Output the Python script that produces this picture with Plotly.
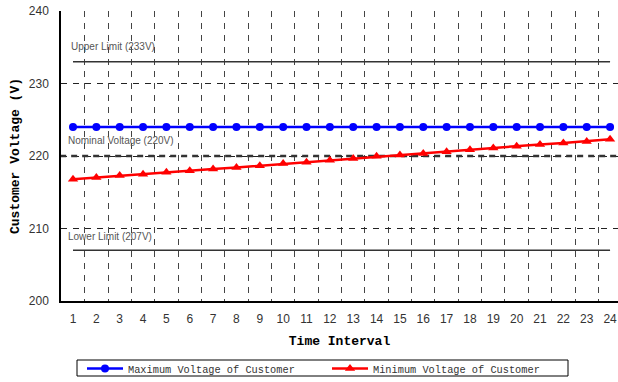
import plotly.graph_objects as go

intervals = list(range(1, 25))
max_voltage = [224] * 24
min_voltage = [216.8, 217.05, 217.3, 217.5, 217.75, 217.95, 218.2, 218.4, 218.65, 218.95,
               219.15, 219.4, 219.65, 219.95, 220.15, 220.35, 220.6, 220.85, 221.1, 221.35,
               221.6, 221.8, 222.0, 222.3]
upper_limit = 233
nominal = 220
lower_limit = 207
y_ticks = [200, 210, 220, 230, 240]
limit_labels = ["Upper Limit (233V)", "Nominal Voltage (220V)", "Lower Limit (207V)"]

fig = go.Figure()

fig.add_trace(go.Scatter(x=[intervals[0], intervals[-1]], y=[upper_limit, upper_limit],
                         mode="lines", line=dict(color="#333333", width=1.5),
                         showlegend=False, hoverinfo="skip"))
fig.add_trace(go.Scatter(x=[intervals[0], intervals[-1]], y=[lower_limit, lower_limit],
                         mode="lines", line=dict(color="#333333", width=1.5),
                         showlegend=False, hoverinfo="skip"))
fig.add_trace(go.Scatter(x=[intervals[0] - 0.55, intervals[-1] + 0.5], y=[nominal, nominal],
                         mode="lines", line=dict(color="#333333", width=2.5, dash="6px,5px"),
                         showlegend=False, hoverinfo="skip"))

fig.add_trace(go.Scatter(x=intervals, y=max_voltage, mode="lines+markers",
                         name="Maximum Voltage of Customer",
                         line=dict(color="#0000FF", width=2.5),
                         marker=dict(symbol="circle", size=8, color="#0000FF")))
fig.add_trace(go.Scatter(x=intervals, y=min_voltage, mode="lines+markers",
                         name="Minimum Voltage of Customer",
                         line=dict(color="#FF0000", width=2.5),
                         marker=dict(symbol="triangle-up", size=9, color="#FF0000")))

label_font = dict(family="Liberation Sans, Arial", size=10, color="#555555")
fig.add_annotation(x=0.83, y=upper_limit, text=limit_labels[0], showarrow=False,
                   xanchor="left", yanchor="bottom", yshift=8, font=label_font)
fig.add_annotation(x=0.72, y=nominal, text=limit_labels[1], showarrow=False,
                   xanchor="left", yanchor="bottom", yshift=8, font=label_font)
fig.add_annotation(x=0.72, y=lower_limit, text=limit_labels[2], showarrow=False,
                   xanchor="left", yanchor="bottom", yshift=6, font=label_font)

# legend frame (pixel box 77..568 x 360..376 converted to paper coords)
fig.add_shape(type="rect", xref="paper", yref="paper",
              x0=(77 - 61) / 557, x1=(568 - 61) / 557,
              y0=(301 - 376) / 290, y1=(301 - 360) / 290,
              line=dict(color="black", width=1), fillcolor="white", layer="below")

minor_vals = [v + 0.5 for v in intervals[:-1]]

fig.update_layout(
    width=618, height=382,
    margin=dict(l=61, r=0, t=11, b=81, autoexpand=False),
    plot_bgcolor="white", paper_bgcolor="white",
    font=dict(family="Liberation Sans, Arial", size=12, color="#333333"),
    legend=dict(orientation="h", x=(82 - 61) / 557, y=(301 - 354) / 290,
                xanchor="left", yanchor="top",
                borderwidth=0, bgcolor="rgba(0,0,0,0)",
                font=dict(family="Liberation Mono, monospace", size=10.3, color="#333333"),
                entrywidth=194, tracegroupgap=0, itemwidth=36),
    showlegend=True,
)
fig.update_xaxes(range=[0.486, 24.34], tickvals=intervals, ticktext=[str(v) for v in intervals],
                 automargin=False, ticklabeloverflow="allow", ticklabelstandoff=6,
                 showgrid=False, zeroline=False,
                 showline=True, linecolor="black", linewidth=1.5,
                 ticks="", ticklen=0,
                 tickfont=dict(size=12, color="#333333"),
                 minor=dict(tickvals=minor_vals, showgrid=True, gridcolor="#444444",
                            gridwidth=1, griddash="6px,6px"),
                 title=dict(text="<b>Time Interval</b>", standoff=11,
                            font=dict(family="Liberation Mono, monospace", size=13, color="black")))
fig.update_yaxes(range=[200, 240], tickvals=y_ticks, automargin=False,
                 ticklabelstandoff=8,
                 showgrid=True, gridcolor="#222222", gridwidth=1, griddash="6px,6px",
                 zeroline=False, showline=True, linecolor="black", linewidth=1.5,
                 ticks="", tickfont=dict(size=12, color="#333333"),
                 title=dict(text="<b>Customer Voltage (V)</b>", standoff=6,
                            font=dict(family="Liberation Mono, monospace", size=13, color="black")))

fig.write_html("out.html", config={"displayModeBar": False},
               post_script="document.body.style.margin='0px';")
